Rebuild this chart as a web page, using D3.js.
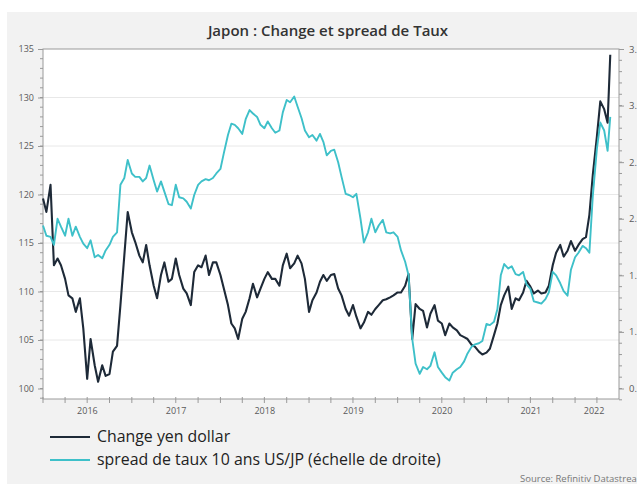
<!DOCTYPE html>
<html>
<head>
<meta charset="utf-8">
<script src="https://cdn.jsdelivr.net/npm/d3@7"></script>
<style>
  html, body { margin: 0; padding: 0; background: #fff; }
  svg { display: block; font-family: "Open Sans", "Noto Sans", sans-serif; }
</style>
</head>
<body>
<div id="chart"></div>
<script>
// semi-monthly observations, Jan 2016 -> May 2022
const dates = [
  "2016-01-01","2016-01-15","2016-02-01","2016-02-15","2016-03-01","2016-03-15","2016-04-01","2016-04-15","2016-05-01","2016-05-15","2016-06-01","2016-06-15",
  "2016-07-01","2016-07-15","2016-08-01","2016-08-15","2016-09-01","2016-09-15","2016-10-01","2016-10-15","2016-11-01","2016-11-15","2016-12-01","2016-12-15",
  "2017-01-01","2017-01-15","2017-02-01","2017-02-15","2017-03-01","2017-03-15","2017-04-01","2017-04-15","2017-05-01","2017-05-15","2017-06-01","2017-06-15",
  "2017-07-01","2017-07-15","2017-08-01","2017-08-15","2017-09-01","2017-09-15","2017-10-01","2017-10-15","2017-11-01","2017-11-15","2017-12-01","2017-12-15",
  "2018-01-01","2018-01-15","2018-02-01","2018-02-15","2018-03-01","2018-03-15","2018-04-01","2018-04-15","2018-05-01","2018-05-15","2018-06-01","2018-06-15",
  "2018-07-01","2018-07-15","2018-08-01","2018-08-15","2018-09-01","2018-09-15","2018-10-01","2018-10-15","2018-11-01","2018-11-15","2018-12-01","2018-12-15",
  "2019-01-01","2019-01-15","2019-02-01","2019-02-15","2019-03-01","2019-03-15","2019-04-01","2019-04-15","2019-05-01","2019-05-15","2019-06-01","2019-06-15",
  "2019-07-01","2019-07-15","2019-08-01","2019-08-15","2019-09-01","2019-09-15","2019-10-01","2019-10-15","2019-11-01","2019-11-15","2019-12-01","2019-12-15",
  "2020-01-01","2020-01-15","2020-02-01","2020-02-15","2020-03-01","2020-03-15","2020-04-01","2020-04-15","2020-05-01","2020-05-15","2020-06-01","2020-06-15",
  "2020-07-01","2020-07-15","2020-08-01","2020-08-15","2020-09-01","2020-09-15","2020-10-01","2020-10-15","2020-11-01","2020-11-15","2020-12-01","2020-12-15",
  "2021-01-01","2021-01-15","2021-02-01","2021-02-15","2021-03-01","2021-03-15","2021-04-01","2021-04-15","2021-05-01","2021-05-15","2021-06-01","2021-06-15",
  "2021-07-01","2021-07-15","2021-08-01","2021-08-15","2021-09-01","2021-09-15","2021-10-01","2021-10-15","2021-11-01","2021-11-15","2021-12-01","2021-12-15",
  "2022-01-01","2022-01-15","2022-02-01","2022-02-15","2022-03-01","2022-03-15","2022-04-01","2022-04-15","2022-05-01","2022-05-15","2022-05-26"
];

// USD/JPY (left axis)
const yenDollar = [
  119.6,118.2,121.0,112.7,113.4,112.7,111.3,109.6,109.3,107.9,109.3,106.2,
  101.0,105.1,102.4,100.7,102.4,101.3,101.5,103.8,104.4,108.6,113.7,118.2,
  116.1,115.1,113.7,113.0,114.8,112.7,110.6,109.3,111.7,113.0,111.0,111.3,
  113.4,111.7,110.3,109.8,108.6,112.0,112.7,112.5,113.7,111.7,113.0,113.0,
  111.7,110.3,108.6,106.7,106.2,105.1,107.2,107.9,109.3,110.8,109.4,110.3,
  111.3,112.0,111.3,111.3,110.6,112.7,113.9,112.4,112.9,113.7,112.9,111.3,
  107.9,109.1,109.9,111.0,111.7,111.1,111.7,111.8,110.3,109.6,108.2,107.5,
  108.6,107.4,106.2,106.8,107.9,107.6,108.2,108.6,109.1,109.2,109.4,109.6,
  109.9,109.9,110.6,111.8,105.1,108.7,108.2,108.0,106.3,107.7,108.6,107.0,
  106.7,105.5,106.7,106.3,106.0,105.5,105.3,105.1,104.5,104.3,103.8,103.5,
  103.7,104.1,105.5,106.7,108.6,109.6,110.5,108.2,109.3,109.1,109.9,111.1,
  110.5,109.8,110.1,109.8,109.9,110.6,112.7,114.0,114.8,113.6,114.2,115.2,
  114.2,114.8,115.4,115.6,117.9,122.0,126.0,129.6,128.8,127.4,134.4
];

// spread 10 ans US/JP (right axis)
const spread = [
  1.94,1.85,1.84,1.77,2.00,1.93,1.85,2.00,1.85,1.93,1.84,1.78,
  1.74,1.81,1.66,1.68,1.65,1.72,1.77,1.84,1.88,2.30,2.36,2.52,
  2.40,2.37,2.37,2.33,2.36,2.47,2.34,2.24,2.33,2.24,2.13,2.12,
  2.30,2.19,2.18,2.15,2.09,2.21,2.30,2.33,2.35,2.34,2.36,2.40,
  2.44,2.58,2.74,2.84,2.83,2.80,2.75,2.88,2.96,2.93,2.90,2.83,
  2.80,2.86,2.80,2.76,2.78,2.94,3.05,3.03,3.08,2.99,2.89,2.78,
  2.72,2.74,2.69,2.75,2.68,2.56,2.60,2.61,2.50,2.37,2.22,2.21,
  2.19,2.22,2.00,1.79,1.88,2.00,1.88,1.94,1.99,1.88,1.87,1.88,
  1.84,1.72,1.62,1.50,0.94,0.72,0.63,0.69,0.67,0.70,0.82,0.69,
  0.64,0.60,0.57,0.64,0.67,0.69,0.74,0.81,0.87,0.89,0.90,0.92,
  1.07,1.06,1.09,1.20,1.50,1.60,1.56,1.58,1.51,1.50,1.53,1.42,
  1.38,1.27,1.26,1.25,1.29,1.35,1.53,1.50,1.43,1.36,1.32,1.55,
  1.66,1.70,1.76,1.74,1.70,2.20,2.62,2.85,2.78,2.60,2.90
];

const leftTicks = [100, 105, 110, 115, 120, 125, 130, 135];
const rightTicks = [0.5, 1.0, 1.5, 2.0, 2.5, 3.0, 3.5];
const years = [2016, 2017, 2018, 2019, 2020, 2021, 2022];

const title = "Japon : Change et spread de Taux";
const seriesNames = ["Change yen dollar", "spread de taux 10 ans US/JP (échelle de droite)"];
const source = "Source: Refinitiv Datastream";

const width = 637, height = 484;
const plot = {left: 43, right: 619, top: 49, bottom: 399};
const colors = {yen: "#1e2a38", spread: "#3ec0c9", axis: "#9a9a9a", text: "#5a5a5a", grid: "#e8e8e8"};

const parse = d3.timeParse("%Y-%m-%d");
const data = dates.map((d, i) => ({date: parse(d), yen: yenDollar[i], spread: spread[i]}));

const svg = d3.select("#chart").append("svg")
  .attr("width", width)
  .attr("height", height);

// panel background
svg.append("rect")
  .attr("x", 7).attr("y", 12)
  .attr("width", width - 7).attr("height", height - 12)
  .attr("fill", "#f2f2f2");

svg.append("text")
  .attr("x", 328).attr("y", 36)
  .attr("text-anchor", "middle")
  .attr("font-size", 15).attr("font-weight", 600)
  .attr("fill", "#333")
  .text(title);

const x = d3.scaleTime()
  .domain([parse("2016-01-01"), parse("2022-07-01")])
  .range([plot.left, plot.right]);

const yLeft = d3.scaleLinear().domain([100, 135]).range([388.5, plot.top]);
const yRight = d3.scaleLinear().domain([0.5, 3.5]).range([388.5, plot.top]);

svg.append("rect")
  .attr("x", plot.left).attr("y", plot.top)
  .attr("width", plot.right - plot.left).attr("height", plot.bottom - plot.top)
  .attr("fill", "#fff");

// gridlines
svg.append("g").selectAll("line")
  .data(leftTicks.filter(v => v > 100 && v < 135))
  .join("line")
  .attr("x1", plot.left).attr("x2", plot.right)
  .attr("y1", d => yLeft(d)).attr("y2", d => yLeft(d))
  .attr("stroke", colors.grid);

// left axis
const minorLeft = d3.range(99, 135, 1);
const gLeft = svg.append("g").attr("transform", `translate(${plot.left},0)`);
gLeft.selectAll(".minor").data(minorLeft).join("line")
  .attr("x1", -3).attr("x2", 0)
  .attr("y1", d => yLeft(d)).attr("y2", d => yLeft(d))
  .attr("stroke", colors.axis);
gLeft.call(d3.axisLeft(yLeft).tickValues(leftTicks).tickSize(5).tickPadding(4))
  .call(g => g.select(".domain").remove())
  .call(g => g.selectAll(".tick line").attr("stroke", colors.axis))
  .call(g => g.selectAll("text").attr("fill", colors.text).attr("font-size", 9).attr("font-family", "Open Sans"));

// right axis (labels run off the right edge, as in the original)
const minorRight = d3.range(4, 35, 1).map(v => v / 10);
const gRight = svg.append("g").attr("transform", `translate(${plot.right},0)`);
gRight.selectAll(".minor").data(minorRight).join("line")
  .attr("x1", 0).attr("x2", 3)
  .attr("y1", d => yRight(d)).attr("y2", d => yRight(d))
  .attr("stroke", colors.axis);
gRight.call(d3.axisRight(yRight).tickValues(rightTicks).tickFormat(d3.format(".1f")).tickSize(5).tickPadding(5))
  .call(g => g.select(".domain").remove())
  .call(g => g.selectAll(".tick line").attr("stroke", colors.axis))
  .call(g => g.selectAll("text").attr("fill", colors.text).attr("font-size", 9.5).attr("font-family", "Open Sans"));

// plot frame
svg.append("rect")
  .attr("x", plot.left).attr("y", plot.top)
  .attr("width", plot.right - plot.left).attr("height", plot.bottom - plot.top)
  .attr("fill", "none").attr("stroke", colors.axis);

// bottom axis: quarterly ticks, year labels mid-year
const quarters = d3.timeMonth.every(3).range(x.domain()[0], x.domain()[1]);
svg.append("g").selectAll("line").data(quarters).join("line")
  .attr("x1", d => x(d)).attr("x2", d => x(d))
  .attr("y1", plot.bottom - 2).attr("y2", plot.bottom + 4)
  .attr("stroke", colors.axis);

svg.append("g").selectAll("text").data(years).join("text")
  .attr("x", d => {
    const a = new Date(d, 0, 1);
    const b = d3.min([new Date(d + 1, 0, 1), x.domain()[1]]);
    return (x(a) + x(b)) / 2 - (d === 2022 ? 3 : 0);
  })
  .attr("y", 414)
  .attr("text-anchor", "middle")
  .attr("font-size", 9).attr("fill", colors.text)
  .text(d => d);

// series
const lineYen = d3.line().x(d => x(d.date)).y(d => yLeft(d.yen));
const lineSpread = d3.line().x(d => x(d.date)).y(d => yRight(d.spread));

svg.append("path").datum(data)
  .attr("d", lineYen)
  .attr("fill", "none").attr("stroke", colors.yen)
  .attr("stroke-width", 2.1).attr("stroke-linejoin", "round");

svg.append("path").datum(data)
  .attr("d", lineSpread)
  .attr("fill", "none").attr("stroke", colors.spread)
  .attr("stroke-width", 1.9).attr("stroke-linejoin", "round");

// legend
const legend = svg.append("g");
const legendTexts = [];
[colors.yen, colors.spread].forEach((c, i) => {
  const ly = 437 + i * 23;
  legend.append("line")
    .attr("x1", 50).attr("x2", 90)
    .attr("y1", ly).attr("y2", ly)
    .attr("stroke", c).attr("stroke-width", 2);
  legendTexts.push(legend.append("text")
    .attr("x", 97).attr("y", ly + 5)
    .attr("font-size", 14).attr("fill", "#222")
    .text(seriesNames[i]));
});
// the long label spans about 344px in the original
const fit = 14 * 344 / legendTexts[1].node().getComputedTextLength();
legendTexts.forEach(t => t.attr("font-size", fit));

svg.append("text")
  .attr("x", 520).attr("y", 482)
  .attr("font-size", 9.5).attr("fill", "#777")
  .text(source);
</script>
</body>
</html>
